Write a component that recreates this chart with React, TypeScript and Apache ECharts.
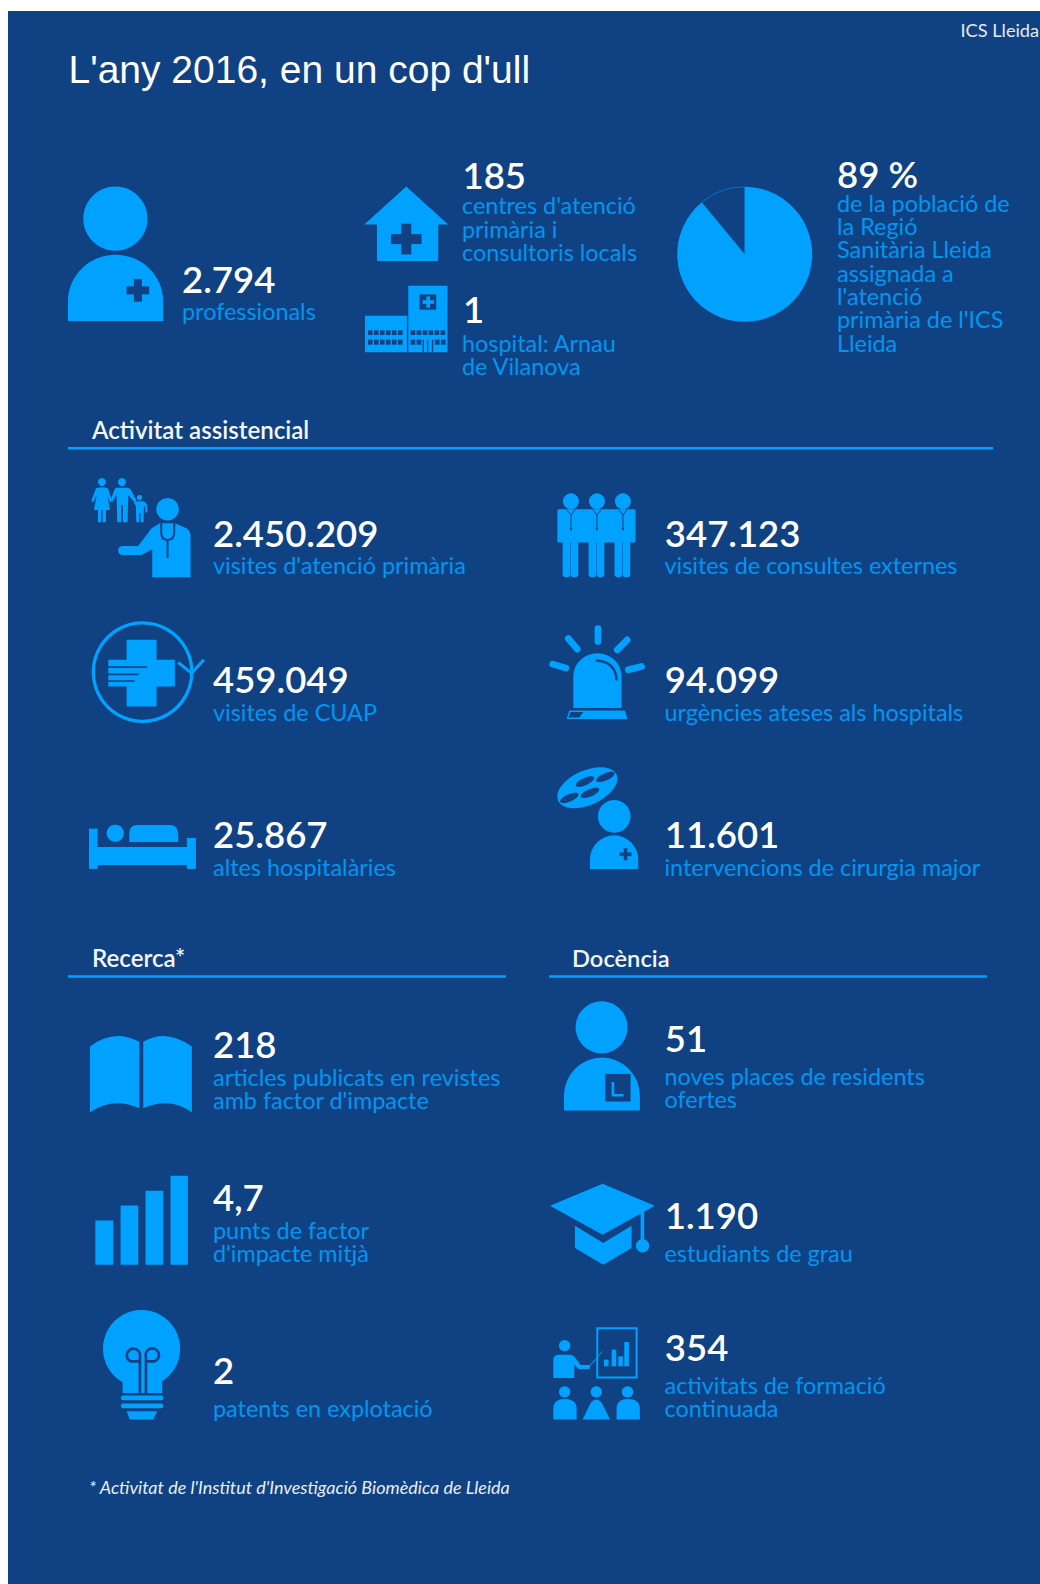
import React, { useEffect, useRef } from "react";
import * as echarts from "echarts";

const title = "L'any 2016, en un cop d'ull";
const source = "ICS Lleida";
const footnote = "* Activitat de l'Institut d'Investigació Biomèdica de Lleida";
const sectionTitles = ["Activitat assistencial", "Recerca*", "Docència"];

const pieValues = [89, 11];

const topValues = ["2.794", "185", "1", "89 %"];
const topLabels = [
  ["professionals"],
  ["centres d'atenció", "primària i", "consultoris locals"],
  ["hospital: Arnau", "de Vilanova"],
  ["de la població de", "la Regió", "Sanitària Lleida", "assignada a", "l'atenció", "primària de l'ICS", "Lleida"],
];
const careValues = ["2.450.209", "347.123", "459.049", "94.099", "25.867", "11.601"];
const careLabels = [
  ["visites d'atenció primària"],
  ["visites de consultes externes"],
  ["visites de CUAP"],
  ["urgències ateses als hospitals"],
  ["altes hospitalàries"],
  ["intervencions de cirurgia major"],
];
const researchValues = ["218", "4,7", "2"];
const researchLabels = [
  ["articles publicats en revistes", "amb factor d'impacte"],
  ["punts de factor", "d'impacte mitjà"],
  ["patents en explotació"],
];
const teachingValues = ["51", "1.190", "354"];
const teachingLabels = [
  ["noves places de residents", "ofertes"],
  ["estudiants de grau"],
  ["activitats de formació", "continuada"],
];

// layout: [x of value, baseline of value, x of label, baselines of label lines]
const topLayout: [number, number, number, number[]][] = [
  [182, 292.7, 182, [320]],
  [462.5, 189.3, 462, [214, 237.7, 261]],
  [463, 323.3, 462, [351.7, 375]],
  [837, 187.7, 837, [211.7, 235, 258.3, 281.7, 305, 328.3, 352.3]],
];
const careLayout: [number, number, number, number[]][] = [
  [213, 546.7, 213, [574.5]],
  [664.8, 546.7, 664.5, [574.5]],
  [213, 692.7, 213, [720.7]],
  [664.8, 692.7, 664.5, [720.7]],
  [213, 848, 213, [875.7]],
  [664.8, 848, 664.5, [875.7]],
];
const researchLayout: [number, number, number, number[]][] = [
  [213, 1058.3, 213, [1086, 1109.3]],
  [213, 1211, 213, [1238.7, 1262]],
  [213, 1384.3, 213, [1417.3]],
];
const teachingLayout: [number, number, number, number[]][] = [
  [664.8, 1051.7, 664.5, [1084.7, 1108]],
  [664.8, 1229, 664.5, [1262.3]],
  [664.8, 1360.7, 664.5, [1394, 1417.3]],
];

const BG = "#104283";
const BLUE = "#00A1FF";
const LABEL = "#0096F0";
const LATO = "Lato, Carlito, sans-serif";

const shapeNames = new Map<string, string>();
function p(d: string, fill: string = BLUE, stroke?: string, lineWidth?: number, extra: any = {}) {
  let name = shapeNames.get(d);
  if (!name) {
    name = "ic" + shapeNames.size;
    shapeNames.set(d, name);
    echarts.graphic.registerShape(name, echarts.graphic.extendPath(d, {}));
  }
  return {
    type: name,
    silent: true,
    style: { fill, stroke: stroke || "none", lineWidth: lineWidth || 0, ...extra },
  };
}
const line = (d: string, w: number, color: string = BLUE, cap: string = "butt") =>
  p(d, "none", color, w, { lineCap: cap, lineJoin: "round" });
const c = (cx: number, cy: number, r: number, fill: string = BLUE) => ({
  type: "circle", silent: true, shape: { cx, cy, r }, style: { fill },
});
const r = (x: number, y: number, width: number, height: number, fill: string = BLUE, rad = 0) => ({
  type: "rect", silent: true, shape: { x, y, width, height, r: rad }, style: { fill },
});
const cross = (cx: number, cy: number, w: number, t: number, fill: string = BG) => [
  r(cx - w / 2, cy - t / 2, w, t, fill),
  r(cx - t / 2, cy - w / 2, t, w, fill),
];
const group = (x: number, y: number, children: any[]) => ({
  type: "group", x, y, scaleX: 1 / 3, scaleY: 1 / 3, silent: true, children,
});

function text(x: number, baseline: number, s: string, size: number, fill: string, weight: any = "normal", family = LATO, style = "normal", k = 0.387) {
  return {
    type: "text",
    silent: true,
    style: {
      text: s, x, y: baseline - k * size, fontSize: size, fontFamily: family, fontWeight: weight, fontStyle: style,
      fill, textAlign: "left", verticalAlign: "middle",
    },
  };
}
function block(values: string[], labels: string[][], layout: [number, number, number, number[]][]) {
  const out: any[] = [];
  values.forEach((v, i) => {
    const [vx, vy, lx, ly] = layout[i];
    out.push(text(vx, vy, v, 36.5, "#FFFFFF", 600));
    labels[i].forEach((t, j) => out.push(text(lx, ly[j], t, 23.4, LABEL)));
  });
  return out;
}

const idx = [0, 1, 2, 3, 4, 5];

function icons() {
  return [
    // top row (zoom coordinates 3x from 0,0)
    group(0, 0, [
      c(346.5, 656.5, 96.5),
      p("M204,964 V905 A143,140 0 0 1 490,905 V964 Z"),
      ...cross(414, 872, 68, 24),
      // house
      p("M1220,560 L1346,674 H1316 V784 H1132 V674 H1094 Z"),
      ...cross(1220, 718, 92, 30),
      // hospital
      r(1096, 948, 126, 110),
      r(1226, 858, 118, 200),
      r(1260, 884, 50, 46, BG),
      ...cross(1286, 907, 34, 11, BLUE),
      ...idx.flatMap((i) => [
        r(1105 + i * 18, 992, 14, 14, BG),
        r(1105 + i * 18, 1020, 14, 15, BG),
        r(1233 + i * 18, 992, 14, 14, BG),
      ]),
      ...[1233, 1251, 1306, 1324].map((x) => r(x, 1020, 14, 15, BG)),
      r(1269, 1020, 4, 38, BG),
      r(1283, 1020, 3, 38, BG),
      r(1297, 1020, 4, 38, BG),
    ]),
    // care, left column (zoom from 60,460)
    group(60, 460, [
      c(126, 66, 12),
      p("M108,85 Q126,78 144,85 L156,122 L150,128 L142,105 L150,150 H138 V187 H128 V150 H124 V187 H114 V150 H102 L110,105 L100,128 L94,122 Z"),
      c(186, 66, 12),
      p("M168,83 H204 Q212,85 216,95 L230,122 L224,128 L205,105 L203,187 H189 V135 H184 V187 H172 L170,105 L158,125 L152,120 L163,90 Z"),
      c(239, 113, 8),
      p("M230,124 H250 Q258,126 262,135 V158 H256 V140 L252,140 L251,187 H242 V160 H238 V187 H229 L228,140 L222,128 Z"),
      c(323, 148, 34),
      p("M300,190 H345 L380,205 Q392,212 392,230 V352 H277 V268 L245,285 H185 A14,14 0 0 1 185,258 H235 L275,205 Z"),
      line("M304,190 V218 Q304,240 323,240 Q343,240 343,218 V190", 6, BG),
      line("M323,240 V296", 6, BG),
      c(323, 306, 12),
      // CUAP
      { type: "circle", silent: true, shape: { cx: 248, cy: 637, r: 148 }, style: { fill: "none", stroke: BLUE, lineWidth: 10 } },
      p("M200,540 H290 V600 H345 V680 H290 V740 H200 V680 H145 V600 H200 Z"),
      line("M140,622 H262", 5, BG),
      line("M140,644 H236", 5, BG),
      line("M140,664 H224", 5, BG),
      line("M355,608 L395,640 L432,600", 9),
      // bed
      r(87, 1107, 26, 121),
      r(381, 1135, 27, 93),
      r(87, 1162, 321, 54),
      c(166, 1121, 26),
      p("M208,1147 V1122 Q208,1096 232,1096 H330 Q355,1096 355,1125 V1147 Z"),
    ]),
    // care, right column (zoom from 530,470)
    group(530, 470, [
      c(123, 94, 24), c(201, 94, 24), c(279, 94, 24),
      r(82, 118, 235, 100, BLUE, 5),
      ...[98, 176, 254].flatMap((x) => [
        r(x, 200, 23, 122, BLUE, 10),
        r(x + 24, 200, 23, 122, BLUE, 10),
        line(`M${x + 13},120 L${x + 25},135 L${x + 37},120 M${x + 25},135 V178`, 3, BG),
        r(x + 22, 174, 6, 7, BG),
      ]),
      // siren
      p("M130,715 V620 A72.5,70 0 0 1 275,620 V715 Z"),
      line("M198,572 Q258,575 260,632", 7, BG),
      p("M118,722 H285 L293,748 H110 Z"),
      p("M122,727 H160 L148,743 H115 Z", BG),
      line("M204,476 V515", 20, BLUE, "round"),
      line("M115,506 L142,538", 20, BLUE, "round"),
      line("M292,510 L262,540", 20, BLUE, "round"),
      line("M68,583 L108,595", 20, BLUE, "round"),
      line("M295,600 L335,590", 20, BLUE, "round"),
      // surgery
      {
        type: "ellipse", silent: true, shape: { cx: 172, cy: 954, rx: 96, ry: 52 },
        rotation: 0.42, originX: 172, originY: 954, style: { fill: BLUE },
      },
      ...[[165, 936], [226, 922], [118, 985], [180, 970]].map(([cx, cy]) => ({
        type: "ellipse", silent: true, shape: { cx, cy, rx: 30, ry: 11 },
        rotation: 0.42, originX: cx, originY: cy, style: { fill: BG },
      })),
      c(253, 1040, 49),
      p("M180,1198 V1170 A72.5,73 0 0 1 325,1170 V1198 Z"),
      ...cross(287, 1154, 36, 11),
    ]),
    // research (zoom from 60,1000)
    group(60, 1000, [
      p("M90,140 Q160,85 238,125 V325 Q160,290 90,337 Z"),
      p("M250,125 Q320,85 396,140 V337 Q330,290 250,325 Z"),
      r(106, 662, 54, 133),
      r(182, 617, 53, 178),
      r(257, 573, 53, 222),
      r(332, 528, 52, 267),
      // bulb
      c(245, 1047, 116),
      p("M188,1125 H307 V1180 H188 Z"),
      r(183, 1188, 127, 14, BLUE, 6),
      r(183, 1212, 127, 14, BLUE, 6),
      p("M200,1235 H292 L280,1260 H210 Z"),
      line("M240,1182 V1072 A20,20 0 1 0 212,1085 H240", 8, BG),
      line("M258,1182 V1072 A20,20 0 1 1 284,1085 H258", 8, BG),
    ]),
    // teaching (zoom from 530,990)
    group(530, 990, [
      c(215, 112, 78),
      p("M102,362 V317 A114,114 0 0 1 330,317 V362 Z"),
      r(226, 252, 76, 83, BG),
      line("M249,276 V316 H281", 8),
      // cap
      p("M60,648 L218,582 L375,648 L218,735 Z"),
      p("M135,708 L220,760 L305,708 V775 L220,825 L135,775 Z"),
      r(332, 665, 11, 90),
      c(338, 768, 20),
      // training
      p("M202,1016 H320 V1164 H202 Z", "none", BLUE, 6),
      r(222, 1110, 14, 20),
      r(245, 1080, 14, 50),
      r(265, 1100, 14, 30),
      r(283, 1057, 14, 73),
      c(104, 1068, 17),
      p("M70,1165 V1110 Q70,1095 88,1095 H120 Q130,1095 135,1103 L152,1126 H180 V1138 H146 L133,1125 V1165 Z"),
      line("M178,1130 L218,1085", 3),
      c(104, 1207, 17), c(199, 1207, 17), c(293, 1207, 17),
      p("M70,1290 V1258 Q70,1228 104,1228 Q140,1228 140,1258 V1290 Z"),
      p("M158,1290 L182,1240 Q199,1220 216,1240 L240,1290 Z"),
      p("M260,1290 V1258 Q260,1228 294,1228 Q330,1228 330,1258 V1290 Z"),
    ]),
  ];
}

export default function App() {
  const ref = useRef<HTMLDivElement>(null);
  useEffect(() => {
    const chart = echarts.init(ref.current!, undefined, { renderer: "svg" });
    chart.setOption({
      animation: false,
      graphic: {
        elements: [
          { type: "rect", silent: true, shape: { x: 8, y: 11, width: 1032, height: 1573 }, style: { fill: BG } },
          text(68.5, 82.7, title, 39, "#FFFFFF", "normal", "'Liberation Sans', Arial, sans-serif", "normal", 0.3465),
          text(960.5, 36.7, source, 18.2, "#E6EAF0"),
          text(92, 438.5, sectionTitles[0], 24.1, "#F4F6FA", 600),
          text(92, 967, sectionTitles[1], 24.1, "#F4F6FA", 600),
          text(572, 967, sectionTitles[2], 23.7, "#F4F6FA", 600),
          r(68, 447, 925, 2.5),
          r(68, 975.2, 438, 2.5),
          r(549, 975.2, 438, 2.5),
          ...block(topValues, topLabels, topLayout),
          ...block(careValues, careLabels, careLayout),
          ...block(researchValues, researchLabels, researchLayout),
          ...block(teachingValues, teachingLabels, teachingLayout),
          text(89, 1494, footnote, 18, "#E8EEF5", "normal", LATO, "italic"),
          ...icons(),
        ],
      },
      series: [
        {
          type: "pie",
          center: [744.7, 254.3],
          radius: [0, 67.5],
          startAngle: 90,
          clockwise: true,
          silent: true,
          label: { show: false },
          labelLine: { show: false },
          data: [
            { value: pieValues[0], itemStyle: { color: BLUE } },
            { value: pieValues[1], itemStyle: { color: BG, borderColor: BLUE, borderWidth: 0.5 } },
          ],
        },
      ],
    });
    return () => chart.dispose();
  }, []);
  return <div ref={ref} style={{ position: "absolute", left: 0, top: 0, width: 1040, height: 1584 }} />;
}
